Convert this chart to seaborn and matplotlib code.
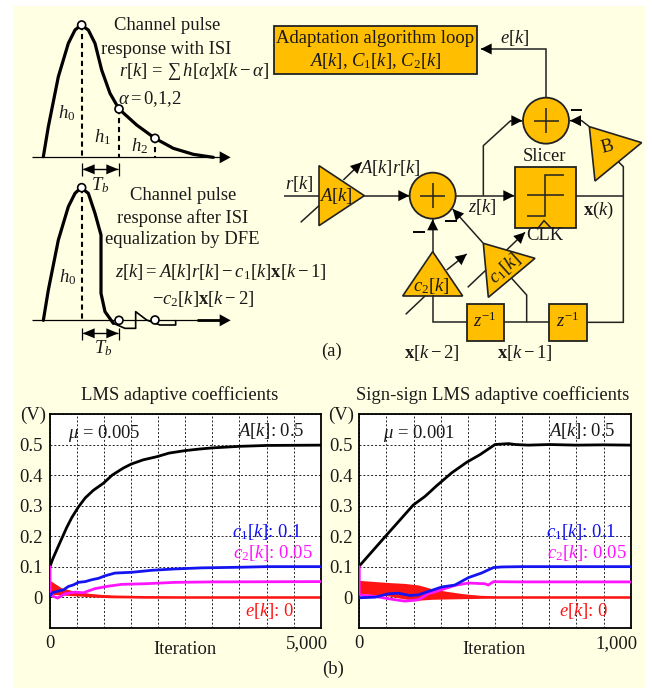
import matplotlib
matplotlib.use("Agg")
import numpy as np
import matplotlib.pyplot as plt
import seaborn as sns
from matplotlib.patches import Polygon, Rectangle, Circle
from matplotlib.transforms import ScaledTranslation

# ---------- chart data ----------
lms_a_x = [0, 50, 154, 308, 400, 523, 650, 800, 985, 1150, 1355, 1500, 1724, 1970, 2200, 2494, 2750, 2999, 3491, 4002, 5000]
lms_a_y = [0.10, 0.125, 0.167, 0.228, 0.260, 0.295, 0.325, 0.35, 0.373, 0.40, 0.423, 0.436, 0.45, 0.46, 0.472, 0.48, 0.485, 0.489, 0.494, 0.497, 0.498]
lms_c1_x = [0, 43, 153, 250, 338, 430, 523, 650, 770, 900, 1016, 1200, 1509, 1878, 2309, 2800, 3500, 4000, 5000]
lms_c1_y = [0.005, 0.0145, 0.02, 0.024, 0.035, 0.04, 0.0485, 0.051, 0.057, 0.062, 0.07, 0.079, 0.0815, 0.088, 0.0925, 0.096, 0.098, 0.10, 0.10]
lms_c2_x = [0, 0, 30, 140, 277, 462, 616, 831, 1077, 1324, 1755, 2309, 3000, 5000]
lms_c2_y = [0.10, 0.01, 0.005, -0.003, 0.011, 0.0165, 0.0145, 0.028, 0.036, 0.042, 0.044, 0.0485, 0.05, 0.051]
lms_e_x = [0, 216, 523, 831, 1130, 1755, 2500, 5000]
lms_e_hi = [0.055, 0.030, 0.017, 0.010, 0.006, 0.003, 0.002, 0.002]
lms_e_lo = [0.010, 0.007, 0.004, 0.000, -0.002, -0.003, -0.003, -0.003]

ss_a_x = [0, 100, 199, 242, 285, 340, 396, 445, 500, 549, 575, 623, 700, 800, 900, 1000]
ss_a_y = [0.102, 0.203, 0.302, 0.33, 0.365, 0.407, 0.442, 0.467, 0.50, 0.503, 0.50, 0.498, 0.50, 0.498, 0.499, 0.498]
ss_c1_x = [0, 58, 107, 144, 187, 218, 266, 303, 352, 402, 451, 494, 525, 600, 800, 1000]
ss_c1_y = [-0.002, 0.0, 0.011, 0.013, 0.0055, 0.0077, 0.022, 0.0332, 0.0397, 0.064, 0.0793, 0.097, 0.099, 0.10, 0.10, 0.10]
ss_c2_x = [0, 0, 10, 58, 107, 168, 218, 254, 303, 352, 402, 463, 475, 494, 600, 800, 1000]
ss_c2_y = [0.10, 0.01, 0.006, 0.0024, -0.005, -0.013, -0.0086, 0.011, 0.0243, 0.0386, 0.0463, 0.044, 0.0397, 0.0507, 0.05, 0.05, 0.05]
ss_e_x = [0, 107, 168, 218, 266, 315, 377, 439, 500, 1000]
ss_e_hi = [0.055, 0.048, 0.045, 0.040, 0.028, 0.020, 0.012, 0.006, 0.002, 0.002]
ss_e_lo = [0.012, 0.004, -0.006, -0.010, -0.007, -0.006, -0.005, -0.004, -0.003, -0.003]

y_tick_values = [-0.1, 0, 0.1, 0.2, 0.3, 0.4, 0.5, 0.6]
y_tick_labels = ["", "0", "0.1", "0.2", "0.3", "0.4", "0.5", ""]

# pulse sketches (zoomed reference units)
pulse1_x = [130, 145, 175, 205, 225, 243, 265, 285, 305, 330, 357, 410, 465, 520, 580, 640]
pulse1_y = [470, 380, 230, 130, 90, 75, 90, 130, 210, 280, 327, 375, 415, 445, 463, 472]
pulse2_x = [130, 145, 175, 205, 225, 243, 265, 285, 303, 303, 315, 340, 375, 407, 407, 440, 480, 527, 527]
pulse2_y = [961, 870, 720, 620, 580, 563, 580, 640, 705, 880, 935, 970, 985, 985, 935, 960, 975, 975, 962]

BG = "#FFFFE3"
ORANGE = "#FFBE00"
EDGE = "#222222"
BLUE = "#1414F0"
MAG = "#FF14FF"
RED = "#FF1414"
INK = "#1a1a1a"

sns.set_theme(style="white")
plt.rcParams["font.family"] = ["Liberation Serif", "DejaVu Serif"]
plt.rcParams["mathtext.fontset"] = "custom"
plt.rcParams["mathtext.rm"] = "Liberation Serif"
plt.rcParams["mathtext.it"] = "Liberation Serif:italic"
plt.rcParams["mathtext.bf"] = "Liberation Serif:bold"
plt.rcParams["mathtext.fallback"] = "stix"
FS = 13.4
W, H = 652, 689

fig = plt.figure(figsize=(W / 100, H / 100), dpi=100, facecolor="white")
fig.add_artist(Rectangle((13 / W, 1 - 688 / H), 632 / W, 682 / H, transform=fig.transFigure,
                         facecolor=BG, edgecolor="none", zorder=-5))


def chart(x0, x1, xmax, ticks, a, c1, c2, e):
    ax = fig.add_axes([x0 / W, 1 - 627.7 / H, (x1 - x0) / W, 213.7 / H], zorder=1, facecolor="white")
    ax.fill_between(e[0], e[1], e[2], color=RED, lw=0, zorder=2)
    sns.lineplot(x=e[0], y=[0.5 * (p + q) for p, q in zip(e[1], e[2])], ax=ax, color=RED, lw=1.6,
                 estimator=None, sort=False, legend=False, zorder=2)
    sns.lineplot(x=a[0], y=a[1], ax=ax, color="black", lw=2.0, estimator=None, sort=False, legend=False, zorder=3)
    sns.lineplot(x=c2[0], y=c2[1], ax=ax, color=MAG, lw=2.0, estimator=None, sort=False, legend=False, zorder=3)
    sns.lineplot(x=c1[0], y=c1[1], ax=ax, color=BLUE, lw=2.0, estimator=None, sort=False, legend=False, zorder=4)
    ax.set_xlim(0, xmax)
    ax.set_ylim(-0.1, 0.6)
    ax.set_xlabel("")
    ax.set_ylabel("")
    ax.set_xticks(ticks)
    ax.set_xticklabels(["0"] + [""] * (len(ticks) - 2) + [f"{xmax:,}"], fontsize=FS, color=INK)
    ax.set_yticks(y_tick_values)
    ax.set_yticklabels(y_tick_labels, fontsize=FS, color=INK)
    ax.tick_params(axis="both", length=0, pad=5)
    ax.tick_params(axis="x", pad=5)
    ax.grid(True, color="#222222", lw=0.7, ls=(0, (2, 2)))
    ax.set_axisbelow(True)
    lab = ax.get_xticklabels()[-1]
    lab.set_ha("right")
    lab.set_transform(lab.get_transform() + ScaledTranslation(7 / 100, 0, fig.dpi_scale_trans))
    for s in ax.spines.values():
        s.set_visible(True)
        s.set_color("black")
        s.set_linewidth(1.3)
    return ax


chart(50, 320.7, 5000, list(range(0, 5001, 500)), (lms_a_x, lms_a_y), (lms_c1_x, lms_c1_y),
      (lms_c2_x, lms_c2_y), (lms_e_x, lms_e_hi, lms_e_lo))
chart(359.3, 630.7, 1000, list(range(0, 1001, 100)), (ss_a_x, ss_a_y), (ss_c1_x, ss_c1_y),
      (ss_c2_x, ss_c2_y), (ss_e_x, ss_e_hi, ss_e_lo))

# overlay in reference pixel units
ov = fig.add_axes([0, 0, 1, 1], zorder=3, facecolor="none")
ov.set_xlim(0, W)
ov.set_ylim(H, 0)
ov.axis("off")


def T(x, y, s, color=INK, fs=FS, rot=0):
    ov.text(x, y, s, color=color, fontsize=fs, ha="center", va="center", rotation=rot, rotation_mode="anchor", zorder=12)


def L(pts, lw=1.1, color=EDGE, ls="-", z=5):
    xs, ys = zip(*pts)
    ov.plot(xs, ys, color=color, lw=lw, ls=ls, zorder=z, solid_capstyle="butt", solid_joinstyle="miter")


def head(tip, frm, length=11, half=5.5, color="black"):
    t, f = np.array(tip, float), np.array(frm, float)
    d = (t - f) / np.linalg.norm(t - f)
    n = np.array([-d[1], d[0]])
    b = t - d * length
    ov.add_patch(Polygon([t, b + n * half, b - n * half], closed=True, facecolor=color, edgecolor="none", zorder=7))


def ARW(pts, **kw):
    L(pts)
    head(pts[-1], pts[-2], **kw)


def POLY(pts, z=4):
    ov.add_patch(Polygon(pts, closed=True, facecolor=ORANGE, edgecolor=EDGE, lw=1.2, zorder=z))


def BOX(x0, y0, x1, y1):
    ov.add_patch(Rectangle((x0, y0), x1 - x0, y1 - y0, facecolor=ORANGE, edgecolor=EDGE, lw=1.3, zorder=4))


def SUM(cx, cy, r=23):
    ov.add_patch(Circle((cx, cy), r, facecolor=ORANGE, edgecolor=EDGE, lw=1.3, zorder=4))
    L([(cx - 12.5, cy), (cx + 12.5, cy)], z=6)
    L([(cx, cy - 12.5), (cx, cy + 12.5)], z=6)


def DOT(x, y):
    ov.add_patch(Circle((x, y), 4, facecolor="white", edgecolor="black", lw=1.2, zorder=9))


def a(x, y):  # left sketch: zoom-3 coordinates
    return (x / 3, y / 3)


def b(x, y):  # block diagram: zoom-4 coordinates
    return (270 + x / 3, y / 3)


# ---- chart annotations
T(180, 395, "LMS adaptive coefficients")
T(493, 395, "Sign-sign LMS adaptive coefficients")
T(33, 415, "(V)")
T(341, 415, "(V)")
T(185, 650, "Iteration")
T(494, 650, "Iteration")
T(333, 669, "(b)")
T(104, 433, r"$\mu$ = 0.005")
T(419, 433, r"$\mu$ = 0.001")
T(271, 431, r"$A[k]$: 0.5")
T(582, 431, r"$A[k]$: 0.5")
T(267, 532, r"$c_1[k]$: 0.1", BLUE)
T(581, 532, r"$c_1[k]$: 0.1", BLUE)
T(273, 553, r"$c_2[k]$: 0.05", MAG)
T(587, 553, r"$c_2[k]$: 0.05", MAG)
T(270, 611, r"$e[k]$: 0", RED)
T(584, 611, r"$e[k]$: 0", RED)

# ---- pulse sketches
L([a(95, 472), a(670, 472)], lw=0.9, color="black")
head(a(692, 472), a(600, 472), length=11, half=6)
sns.lineplot(x=[v / 3 for v in pulse1_x], y=[v / 3 for v in pulse1_y], ax=ov, color="black", lw=2.3,
             estimator=None, sort=False, legend=False, zorder=6)
for xv, yv in [(245, 75), (358, 327), (465, 415)]:
    L([a(xv, yv), a(xv, 472)], lw=1.5, color="black", ls=(0, (2.5, 1.8)))
for xv, yv in [(245, 75), (357, 327), (465, 415)]:
    DOT(*a(xv, yv))
for base, t0, t1 in [(508, 490, 528), (1000, 985, 1020)]:
    L([a(245, t0), a(245, t1)], lw=0.9, color="black")
    L([a(358, t0), a(358, t1)], lw=0.9, color="black")
    L([a(250, base), a(353, base)], lw=1.0, color="black")
    head(a(248, base), a(300, base), length=12, half=5)
    head(a(355, base), a(300, base), length=12, half=5)
T(*a(300, 555), r"$T_b$")
T(*a(310, 1045), r"$T_b$")
T(*a(200, 340), r"$h_0$")
T(*a(307, 412), r"$h_1$")
T(*a(420, 437), r"$h_2$")

L([a(95, 961), a(670, 961)], lw=0.9, color="black")
L([a(590, 961), a(670, 961)], lw=2.0, color="black")
head(a(692, 961), a(600, 961), length=11, half=6)
sns.lineplot(x=[v / 3 for v in pulse2_x[:12]], y=[v / 3 for v in pulse2_y[:12]], ax=ov, color="black", lw=2.3,
             estimator=None, sort=False, legend=False, zorder=6)
sns.lineplot(x=[v / 3 for v in pulse2_x[11:]], y=[v / 3 for v in pulse2_y[11:]], ax=ov, color="black", lw=1.2,
             estimator=None, sort=False, legend=False, zorder=6)
L([a(245, 563), a(245, 961)], lw=1.5, color="black", ls=(0, (2.5, 1.8)))
DOT(*a(245, 563))
DOT(*a(357, 961))
DOT(*a(465, 960))
T(*a(203, 830), r"$h_0$")

T(*a(500, 78), "Channel pulse")
T(*a(498, 148), "response with ISI")
T(*a(582, 215), r"$r[k]\,=\,\sum\,h[\alpha]x[k-\alpha]$")
T(*a(450, 297), r"$\alpha = 0{,}1{,}2$")
T(*a(548, 586), "Channel pulse")
T(*a(548, 655), "response after ISI")
T(*a(548, 720), "equalization by DFE")
T(*a(662, 815), r"$z[k] = A[k]r[k] - c_1[k]\mathbf{x}[k-1]$")
T(*a(610, 898), r"$-c_2[k]\mathbf{x}[k-2]$")
T(332, 351, "(a)")

# ---- block diagram
BOX(*b(12, 77), *b(622, 222))
T(*b(316, 115), "Adaptation algorithm loop")
T(*b(315, 183), r"$A[k]$, $C_1[k]$, $C_2[k]$")
ARW([b(828, 295), b(828, 147), b(632, 147)])
T(*b(735, 113), r"$e[k]$")
SUM(*b(828, 362))
SUM(*b(488, 587))

POLY([b(147, 497), b(147, 677), b(283, 587)])
T(*b(197, 588), r"$A[k]$")
T(*b(88, 553), r"$r[k]$")
L([b(43, 587), b(147, 587)])
ARW([b(283, 587), b(418, 587)])
L([b(92, 667), b(147, 617)])
ARW([b(220, 540), b(275, 487)])
T(*b(360, 505), r"$A[k]r[k]$")

ARW([b(558, 587), b(733, 587)])
T(*b(638, 620), r"$z[k]$")
L([b(640, 587), b(640, 437), b(722, 362)])
L([b(720, 362), b(757, 362)])
head(b(757, 362), b(700, 362))
L([b(903, 330), b(937, 330)], lw=1.4, color="black")

POLY([b(958, 380), b(1115, 428), b(975, 543)])
T(*b(1012, 440), "B", rot=15)
ARW([b(958, 380), b(935, 362), b(900, 362)])

BOX(*b(735, 501), *b(917, 683))
T(*b(825, 470), "Slicer")
L([b(770, 585), b(882, 585)], z=6)
L([b(770, 647), b(825, 647), b(825, 525), b(882, 525)], z=6)
L([b(805, 683), b(822, 662), b(842, 683)], z=6)
T(*b(825, 708), "CLK")
L([b(917, 587), b(1060, 587)])
T(*b(985, 630), r"$\mathbf{x}(k)$")
L([b(1045, 485), b(1060, 500), b(1060, 967), b(952, 967)])
BOX(*b(838, 911), *b(952, 1024))
T(*b(893, 965), r"$z^{-1}$")
BOX(*b(590, 911), *b(703, 1024))
T(*b(645, 965), r"$z^{-1}$")
L([b(838, 967), b(703, 967)])
L([b(770, 967), b(770, 885), b(725, 835)])
L([b(590, 967), b(488, 967), b(488, 885)])

POLY([b(488, 755), b(398, 888), b(578, 888)])
T(*b(485, 857), r"$c_2[k]$")
ARW([b(488, 755), b(488, 658)])
L([b(430, 695), b(464, 695)], lw=1.4, color="black")
L([b(407, 943), b(465, 888)])
ARW([b(530, 810), b(590, 762)])

POLY([b(640, 730), b(795, 775), b(655, 892)])
T(*b(705, 805), r"$c_1[k]$", rot=42)
ARW([b(640, 730), b(548, 627)])
L([b(526, 662), b(560, 662)], lw=1.4, color="black")
L([b(593, 862), b(648, 810)])
ARW([b(710, 750), b(765, 697)])
T(*b(487, 1060), r"$\mathbf{x}[k-2]$")
T(*b(765, 1060), r"$\mathbf{x}[k-1]$")

fig.savefig("out.png", dpi=100)
